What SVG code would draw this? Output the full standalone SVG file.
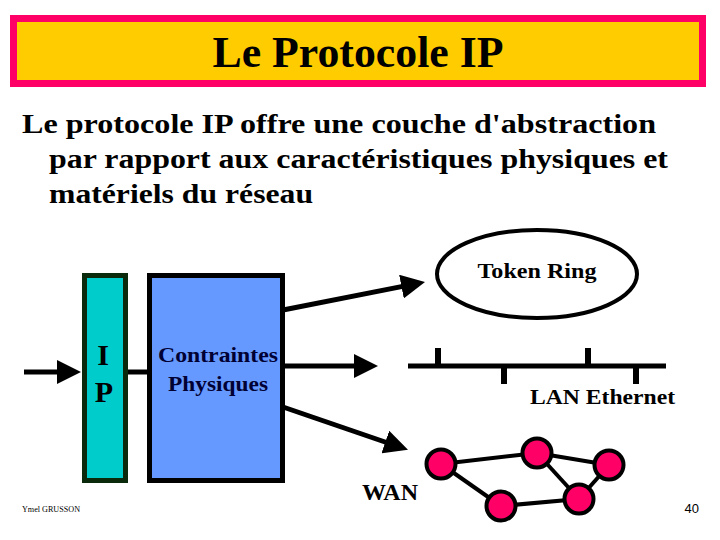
<svg xmlns="http://www.w3.org/2000/svg" width="720" height="540" viewBox="0 0 720 540">
<style>
.serif{font-family:"Liberation Serif","Times New Roman",serif;font-weight:bold;fill:#000}
.conn{stroke:#000;stroke-width:5;fill:none}
.edge{stroke:#000;stroke-width:4;fill:none}
.wn{fill:#FF0066;stroke:#000;stroke-width:4}
.tick{stroke:#000;stroke-width:6}
</style>
<defs>
<marker id="ah" markerUnits="userSpaceOnUse" markerWidth="24" markerHeight="24" viewBox="0 0 24 24" refX="9" refY="12" orient="auto">
<path d="M0,0 L24,12 L0,24 z" fill="#000"/>
</marker>
</defs>
<rect width="720" height="540" fill="#fff"/>
<g id="title">
<rect x="13.5" y="18.5" width="689" height="65" fill="#FFCC00" stroke="#FF0066" stroke-width="7"/>
<text class="serif" x="358" y="67" font-size="44" text-anchor="middle" textLength="291" lengthAdjust="spacingAndGlyphs">Le Protocole IP</text>
</g>
<g id="body">
<text class="serif" x="22" y="133" font-size="27" textLength="634" lengthAdjust="spacingAndGlyphs">Le protocole IP offre une couche d'abstraction</text>
<text class="serif" x="49" y="168" font-size="27" textLength="619" lengthAdjust="spacingAndGlyphs">par rapport aux caractéristiques physiques et</text>
<text class="serif" x="49" y="203" font-size="27" textLength="264" lengthAdjust="spacingAndGlyphs">matériels du réseau</text>
</g>
<g id="connectors">
<line class="conn" x1="24" y1="372" x2="66" y2="372" marker-end="url(#ah)"/>
<line class="conn" x1="126" y1="372" x2="150" y2="372"/>
<line class="conn" x1="283" y1="310" x2="410.3" y2="284.9" marker-end="url(#ah)"/>
<line class="conn" x1="283" y1="366" x2="363" y2="366" marker-end="url(#ah)"/>
<line class="conn" x1="283" y1="407" x2="393.8" y2="445" marker-end="url(#ah)"/>
</g>
<g id="ip">
<rect x="84.5" y="275.5" width="41" height="205" fill="#00CCCC" stroke="#0B2A0B" stroke-width="5"/>
<text class="serif" x="103" y="365" font-size="30" text-anchor="middle">I</text>
<text class="serif" x="104" y="402" font-size="30" text-anchor="middle">P</text>
</g>
<g id="contraintes">
<rect x="149.5" y="275.5" width="133" height="205" fill="#6699FF" stroke="#000" stroke-width="5"/>
<text class="serif" x="218" y="362" font-size="21" text-anchor="middle" style="fill:#000033" textLength="120" lengthAdjust="spacingAndGlyphs">Contraintes</text>
<text class="serif" x="218" y="391" font-size="21" text-anchor="middle" style="fill:#000033" textLength="100" lengthAdjust="spacingAndGlyphs">Physiques</text>
</g>
<g id="token-ring">
<ellipse cx="537" cy="274" rx="100" ry="44" fill="none" stroke="#000" stroke-width="4"/>
<text class="serif" x="537" y="278" font-size="22" text-anchor="middle" textLength="119" lengthAdjust="spacingAndGlyphs">Token Ring</text>
</g>
<g id="lan-ethernet">
<line class="conn" x1="408" y1="366" x2="666" y2="366"/>
<line class="tick" x1="438" y1="348" x2="438" y2="366"/>
<line class="tick" x1="504" y1="366" x2="504" y2="384"/>
<line class="tick" x1="588" y1="348" x2="588" y2="366"/>
<line class="tick" x1="636" y1="366" x2="636" y2="384"/>
<text class="serif" x="530" y="404" font-size="22" textLength="145" lengthAdjust="spacingAndGlyphs">LAN Ethernet</text>
</g>
<g id="wan">
<line class="edge" x1="441" y1="464" x2="537" y2="453"/>
<line class="edge" x1="441" y1="464" x2="501" y2="506"/>
<line class="edge" x1="501" y1="506" x2="579" y2="499"/>
<line class="edge" x1="537" y1="453" x2="609" y2="465"/>
<line class="edge" x1="537" y1="453" x2="579" y2="499"/>
<line class="edge" x1="579" y1="499" x2="609" y2="465"/>
<circle class="wn" cx="441" cy="464" r="14.5"/>
<circle class="wn" cx="537" cy="453" r="14.5"/>
<circle class="wn" cx="609" cy="465" r="14.5"/>
<circle class="wn" cx="501" cy="506" r="14.5"/>
<circle class="wn" cx="579" cy="499" r="14.5"/>
<text class="serif" x="362" y="500" font-size="23" textLength="56" lengthAdjust="spacingAndGlyphs">WAN</text>
</g>
<g id="footer">
<text x="22" y="512" font-family="Liberation Serif, serif" font-size="8" textLength="58" lengthAdjust="spacingAndGlyphs">Ymel GRUSSON</text>
<text x="699" y="513" font-family="Liberation Sans, Arial, sans-serif" font-size="13" text-anchor="end">40</text>
</g>
</svg>
